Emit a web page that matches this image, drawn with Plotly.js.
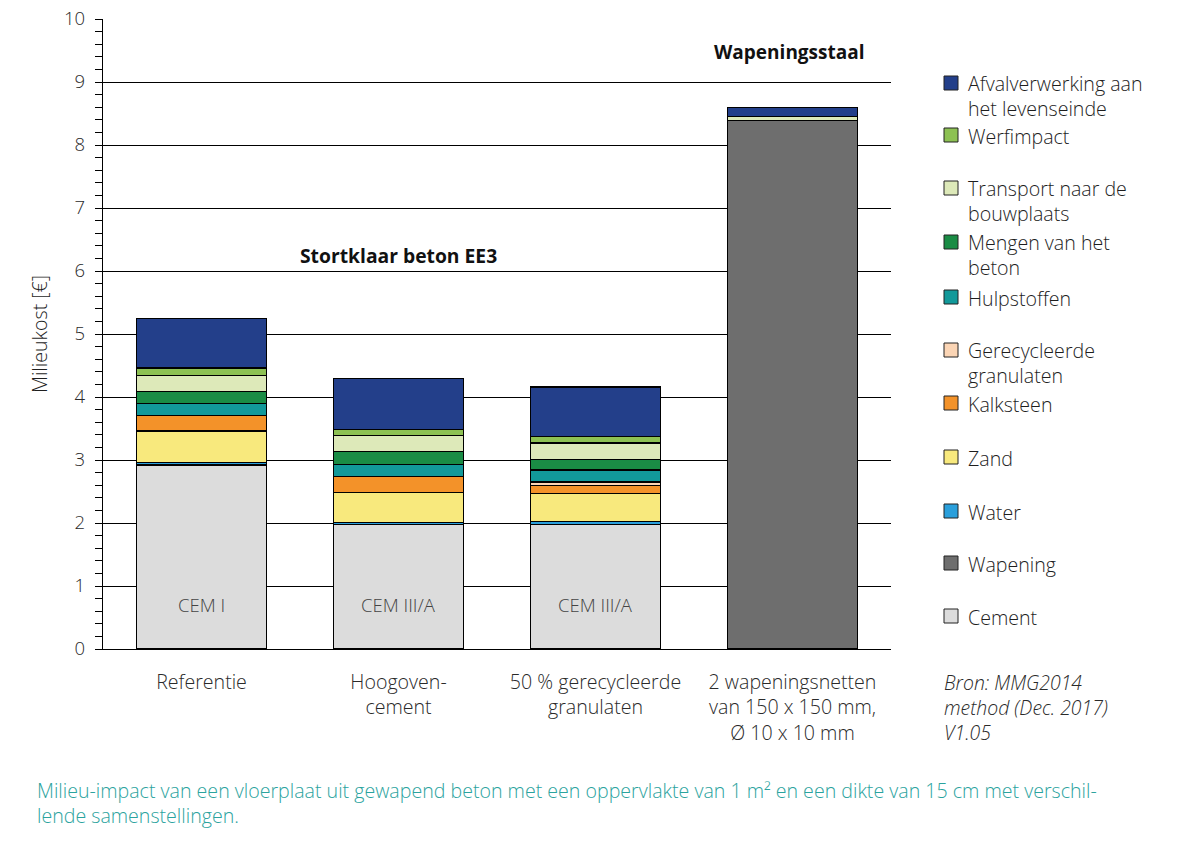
<!DOCTYPE html>
<html>
<head>
<meta charset="utf-8">
<script src="https://cdn.plot.ly/plotly-3.0.1.min.js"></script>
<style>html,body{margin:0;padding:0;background:#fff;}#chart{width:1203px;height:842px;}</style>
</head>
<body>
<div id="chart"></div>
<script>
// ---- data ----
const categories = ["Referentie", "Hoogoven-<br>cement", "50 % gerecycleerde<br>granulaten", "2 wapeningsnetten<br>van 150 x 150 mm,<br>Ø 10 x 10 mm"];
const cement       = [2.92, 1.98, 1.98, null];
const wapening     = [null, null, null, 8.39];
const water        = [0.04, 0.03, 0.05, null];
const zand         = [0.50, 0.48, 0.44, null];
const kalksteen    = [0.25, 0.25, 0.13, null];
const gerecycleerd = [null, null, 0.05, null];
const hulpstoffen  = [0.19, 0.19, 0.19, null];
const mengen       = [0.19, 0.21, 0.17, null];
const transport    = [0.25, 0.25, 0.26, 0.06];
const werfimpact   = [0.12, 0.10, 0.10, null];
const afval        = [0.79, 0.81, 0.79, 0.15];
const cementLabels = ["CEM I", "CEM III/A", "CEM III/A"];

const seriesNames = ["Cement", "Wapening", "Water", "Zand", "Kalksteen", "Gerecycleerde granulaten", "Hulpstoffen", "Mengen van het beton", "Transport naar de bouwplaats", "Werfimpact", "Afvalverwerking aan het levenseinde"];
const seriesValues = [cement, wapening, water, zand, kalksteen, gerecycleerd, hulpstoffen, mengen, transport, werfimpact, afval];
const seriesColors = ["#dcdcdc", "#6e6e6e", "#2a9fdb", "#f8e97d", "#f39229", "#fbd5b5", "#12999a", "#1a8c45", "#dde9b9", "#8dc153", "#233f8a"];

// legend text (top to bottom) with line breaks as in the reference
const legendLines = [
  ["Afvalverwerking aan", "het levenseinde"],
  ["Werfimpact"],
  ["Transport naar de", "bouwplaats"],
  ["Mengen van het", "beton"],
  ["Hulpstoffen"],
  ["Gerecycleerde", "granulaten"],
  ["Kalksteen"],
  ["Zand"],
  ["Water"],
  ["Wapening"],
  ["Cement"]
];

// ---- layout helpers (pixel -> paper) ----
const L = 103, R = 891, T = 19, B = 649;
const px = x => (x - L) / (R - L);
const py = y => (B - y) / (B - T);
const FONT = "Open Sans, Noto Sans, sans-serif";
const FS = 19.6;

const traces = seriesNames.map((n, i) => ({
  type: "bar",
  name: n,
  x: categories,
  y: seriesValues[i],
  marker: {color: seriesColors[i], line: {color: "#000", width: 1.2}},
  showlegend: false,
  hoverinfo: "name+y"
}));

const annotations = [];
const shapes = [];

// legend, drawn manually for exact spacing
const legendColorsTopDown = seriesColors.slice().reverse();
const sqCenters = [83, 135, 188, 242, 297, 350, 403, 457, 511, 563, 616];
legendLines.forEach((lines, i) => {
  const c = sqCenters[i];
  shapes.push({type: "rect", xref: "paper", yref: "paper",
    x0: px(944), x1: px(958), y0: py(c + 7), y1: py(c - 7),
    fillcolor: legendColorsTopDown[i], line: {color: "#222", width: 1}});
  const mid = c + 1 + (lines.length - 1) * 12;
  annotations.push({xref: "paper", yref: "paper", x: px(966), y: py(mid),
    xanchor: "left", yanchor: "middle", align: "left", showarrow: false, text: lines.join("<br>"),
    font: {family: FONT, size: FS, color: "#1e1e1e", weight: 300}});
});

// labels inside the cement segments
cementLabels.forEach((t, i) => {
  annotations.push({x: categories[i], y: 0.71, xref: "x", yref: "y", text: t, showarrow: false,
    font: {family: FONT, size: 18.5, color: "#444", weight: 300}});
});

// group headings
annotations.push({x: categories[1], y: 6.25, xref: "x", yref: "y", text: "<b>Stortklaar beton EE3</b>", showarrow: false,
  font: {family: FONT, size: 19.3, color: "#111"}});
annotations.push({x: categories[3], y: 9.48, xref: "x", yref: "y", xshift: -3, text: "<b>Wapeningsstaal</b>", showarrow: false,
  font: {family: FONT, size: 19, color: "#111"}});

// source
annotations.push({xref: "paper", yref: "paper", x: px(942), y: py(707), xanchor: "left", yanchor: "middle", align: "left",
  showarrow: false, text: "<i>Bron: MMG2014<br>method (Dec. 2017)<br>V1.05</i>",
  font: {family: FONT, size: 19.4, color: "#2a2a2a", weight: 300}});

// caption
annotations.push({xref: "paper", yref: "paper", x: px(35), y: py(803), xanchor: "left", yanchor: "middle", align: "left",
  showarrow: false,
  text: "Milieu-impact van een vloerplaat uit gewapend beton met een oppervlakte van 1 m² en een dikte van 15 cm met verschil-<br>lende samenstellingen.",
  font: {family: FONT, size: 19.6, color: "#2ba39e", weight: 300}});

const layout = {
  width: 1203, height: 842,
  margin: {l: L, r: 1203 - R, t: T, b: 842 - B, pad: 0},
  paper_bgcolor: "#fff", plot_bgcolor: "#fff",
  barmode: "stack", bargap: 0.34,
  font: {family: FONT, size: FS, color: "#333"},
  xaxis: {
    type: "category", showline: true, linecolor: "#000", linewidth: 1.2, ticks: "", showgrid: false,
    tickfont: {family: FONT, size: FS, color: "#2a2a2a", weight: 300}, ticklabelstandoff: 15, fixedrange: true
  },
  yaxis: {
    range: [0, 10], dtick: 1, tick0: 0, showline: true, linecolor: "#000", linewidth: 1.2,
    ticks: "outside", ticklen: 7, tickcolor: "#000", tickwidth: 1,
    showgrid: true, gridcolor: "#000", gridwidth: 1, zeroline: false,
    minor: {dtick: 0.2, ticks: "outside", ticklen: 7, tickcolor: "#000", tickwidth: 1, showgrid: false},
    tickfont: {family: FONT, size: 18.5, color: "#2a2a2a", weight: 300}, ticklabelstandoff: 6,
    title: {text: "Milieukost [€]", font: {family: FONT, size: FS, color: "#1e1e1e", weight: 300}, standoff: 11},
    fixedrange: true
  },
  annotations: annotations,
  shapes: shapes,
  showlegend: false
};

Plotly.newPlot("chart", traces, layout, {displayModeBar: false, staticPlot: true});
</script>
</body>
</html>
